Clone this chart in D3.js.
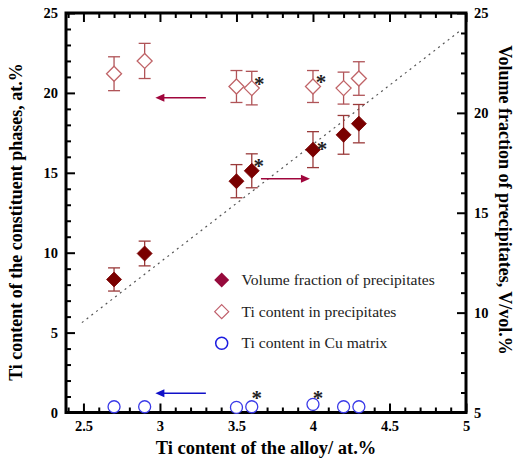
<!DOCTYPE html>
<html><head><meta charset="utf-8">
<script src="https://cdn.jsdelivr.net/npm/d3@7"></script>
<style>body{margin:0;background:#fff}svg{display:block}</style>
</head><body>
<svg id="chart" width="515" height="460"></svg>
<script>
// ---- data ----
const alloyTi = [2.7, 2.9, 3.5, 3.6, 4.0, 4.2, 4.3];
const tiPrecip = [21.2, 22.0, 20.4, 20.3, 20.4, 20.3, 20.9];
const tiPrecipErr = [1.06, 1.1, 1.0, 1.05, 1.0, 1.0, 1.05];
const volFrac = [11.66, 12.96, 16.58, 17.1, 18.16, 18.9, 19.46];
const volFracErr = [0.58, 0.62, 0.83, 0.85, 0.9, 0.97, 0.96];
const tiMatrix = [0.36, 0.36, 0.32, 0.36, 0.51, 0.36, 0.36];
const starredX = [3.6, 4.0];
const trendX = [2.49, 4.96];
const trendV = [9.5, 24.1];
const xTicks = [2.5, 3, 3.5, 4, 4.5, 5];
const yLeftTicks = [0, 5, 10, 15, 20, 25];
const yRightTicks = [5, 10, 15, 20, 25];
const legendLabels = ["Volume fraction of precipitates", "Ti content in precipitates", "Ti content in Cu matrix"];
const xTitle = "Ti content of the alloy/ at.%";
const yLeftTitle = "Ti content of the constituent phases, at.%";
const yRightTitle = "Volume fraction of precipitates, V/vol.%";

// ---- layout ----
const L = 66, R = 466, T = 13, B = 412.5;
const svg = d3.select("#chart");
const FONT = "Liberation Serif, Times New Roman, serif";
const x = d3.scaleLinear().domain([2.386, 5]).range([L, R]);
const yL = d3.scaleLinear().domain([0, 25]).range([B, T]);
const yR = d3.scaleLinear().domain([5, 25]).range([B, T]);

const filledCol = "#7a0000", filledErr = "#9a3a3a";
const openCol = "#c06468", openErr = "#b05458";
const blueCol = "#3a3ae8";
const arrowRed = "#a0063c", arrowBlue = "#1010c8";

const xMinor = d3.range(24, 51).map(d => d / 10).filter(v => v >= 2.386 && Math.abs(v * 2 - Math.round(v * 2)) > 1e-6);
const yLMinor = d3.range(0, 26).filter(v => v % 5 !== 0);
const yRMinor = d3.range(5, 26).filter(v => v % 5 !== 0);

function styleAxis(g, sw) {
  g.select(".domain").remove();
  g.selectAll(".tick line").attr("stroke", "#000").attr("stroke-width", sw);
  g.selectAll(".tick text").attr("font-family", FONT).attr("font-weight", "bold").attr("font-size", 14.5).attr("fill", "#000");
}
svg.append("g").attr("transform", `translate(0,${B})`)
  .call(d3.axisBottom(x).tickValues(xTicks).tickSizeInner(-9).tickSizeOuter(0).tickPadding(8).tickFormat(d3.format("")))
  .call(g => styleAxis(g, 2));
svg.append("g").attr("transform", `translate(0,${B})`)
  .call(d3.axisBottom(x).tickValues(xMinor).tickSizeInner(-5).tickSizeOuter(0).tickFormat(""))
  .call(g => styleAxis(g, 2));
svg.append("g").attr("transform", `translate(0,${T})`)
  .call(d3.axisTop(x).tickValues(xTicks).tickSizeInner(-9).tickSizeOuter(0).tickFormat(""))
  .call(g => styleAxis(g, 2));
svg.append("g").attr("transform", `translate(0,${T})`)
  .call(d3.axisTop(x).tickValues(xMinor).tickSizeInner(-5).tickSizeOuter(0).tickFormat(""))
  .call(g => styleAxis(g, 2));
svg.append("g").attr("transform", `translate(${L},0)`)
  .call(d3.axisLeft(yL).tickValues(yLeftTicks).tickSizeInner(-9).tickSizeOuter(0).tickPadding(8).tickFormat(d3.format("d")))
  .call(g => styleAxis(g, 2));
svg.append("g").attr("transform", `translate(${L},0)`)
  .call(d3.axisLeft(yL).tickValues(yLMinor).tickSizeInner(-5).tickSizeOuter(0).tickFormat(""))
  .call(g => styleAxis(g, 2));
svg.append("g").attr("transform", `translate(${R},0)`)
  .call(d3.axisRight(yR).tickValues(yRightTicks).tickSizeInner(-9).tickSizeOuter(0).tickPadding(8).tickFormat(d3.format("d")))
  .call(g => styleAxis(g, 2));
svg.append("g").attr("transform", `translate(${R},0)`)
  .call(d3.axisRight(yR).tickValues(yRMinor).tickSizeInner(-5).tickSizeOuter(0).tickFormat(""))
  .call(g => styleAxis(g, 2));

svg.append("rect").attr("x", L).attr("y", T).attr("width", R - L).attr("height", B - T)
  .attr("fill", "none").attr("stroke", "#000").attr("stroke-width", 3);

svg.append("line")
  .attr("x1", x(trendX[0])).attr("y1", yR(trendV[0]))
  .attr("x2", x(trendX[1])).attr("y2", yR(trendV[1]))
  .attr("stroke", "#555").attr("stroke-width", 1.2).attr("stroke-dasharray", "2,4");

const dataIdx = d3.range(alloyTi.length);

function errorBars(vals, errs, scale, col) {
  const g = svg.append("g").attr("stroke", col).attr("stroke-width", 1.3).attr("fill", "none");
  dataIdx.forEach(i => {
    const cx = x(alloyTi[i]);
    const y1 = scale(vals[i] + errs[i]), y2 = scale(vals[i] - errs[i]);
    g.append("line").attr("x1", cx).attr("x2", cx).attr("y1", y1).attr("y2", y2);
    g.append("line").attr("x1", cx - 6).attr("x2", cx + 6).attr("y1", y1).attr("y2", y1);
    g.append("line").attr("x1", cx - 6).attr("x2", cx + 6).attr("y1", y2).attr("y2", y2);
  });
}
const diamond = (cx, cy, h) => `M${cx},${cy - h}L${cx + h},${cy}L${cx},${cy + h}L${cx - h},${cy}Z`;

errorBars(tiPrecip, tiPrecipErr, yL, openErr);
svg.append("g").selectAll("path").data(dataIdx).join("path")
  .attr("d", i => diamond(x(alloyTi[i]), yL(tiPrecip[i]), 7.5))
  .attr("fill", "#fff").attr("stroke", openCol).attr("stroke-width", 1.3);

errorBars(volFrac, volFracErr, yR, filledErr);
svg.append("g").selectAll("path").data(dataIdx).join("path")
  .attr("d", i => diamond(x(alloyTi[i]), yR(volFrac[i]), 7.5))
  .attr("fill", filledCol).attr("stroke", filledCol).attr("stroke-width", 0.8);

svg.append("g").selectAll("circle").data(dataIdx).join("circle")
  .attr("cx", i => x(alloyTi[i])).attr("cy", i => yL(tiMatrix[i])).attr("r", 6)
  .attr("fill", "#fff").attr("stroke", blueCol).attr("stroke-width", 1.3);

function stars(vals, scale, dx, dy) {
  starredX.forEach((sx, k) => {
    const i = alloyTi.indexOf(sx);
    svg.append("text").attr("x", x(sx) + dx[k]).attr("y", scale(vals[i]) + dy[k] + 10)
      .attr("text-anchor", "middle").attr("font-family", FONT).attr("font-weight", "bold").attr("font-size", 21)
      .attr("fill", "#222").text("*");
  });
}
stars(tiPrecip, yL, [7.5, 8], [-6.7, -8]);
stars(volFrac, yR, [7, 9], [-8, -4]);
stars(tiMatrix, yL, [5, 5], [-12, -9]);

function arrow(xFrom, xTo, yPix, col) {
  const dir = Math.sign(xTo - xFrom);
  svg.append("line").attr("x1", xFrom).attr("x2", xTo - dir * 8).attr("y1", yPix).attr("y2", yPix)
    .attr("stroke", col).attr("stroke-width", 1.6);
  svg.append("path").attr("d", `M${xTo},${yPix}L${xTo - dir * 9},${yPix - 4}L${xTo - dir * 9},${yPix + 4}Z`).attr("fill", col);
}
arrow(x(3.3), x(2.97), yL(19.7), arrowRed);
arrow(x(3.66), x(3.98), yR(16.7), arrowRed);
arrow(x(3.3), x(2.97), yL(1.2), arrowBlue);

const lg = svg.append("g");
const legY = [280, 311.7, 343.3];
lg.append("path").attr("d", diamond(221.7, legY[0], 7.5)).attr("fill", "#960a3c");
lg.append("path").attr("d", diamond(221.7, legY[1], 7)).attr("fill", "#fff").attr("stroke", "#c0606c").attr("stroke-width", 1.2);
lg.append("circle").attr("cx", 221.7).attr("cy", legY[2]).attr("r", 6).attr("fill", "#fff").attr("stroke", "#1c1ce0").attr("stroke-width", 1.5);
legendLabels.forEach((t, i) => {
  lg.append("text").attr("x", 241.5).attr("y", legY[i] + 5).attr("font-family", FONT).attr("font-size", 15.6)
    .attr("fill", "#222").text(t);
});

svg.append("text").attr("x", 266).attr("y", 454).attr("text-anchor", "middle")
  .attr("font-family", FONT).attr("font-weight", "bold").attr("font-size", 18.5).text(xTitle);
svg.append("text").attr("transform", "translate(22,222) rotate(-90)").attr("text-anchor", "middle")
  .attr("font-family", FONT).attr("font-weight", "bold").attr("font-size", 18).text(yLeftTitle);
svg.append("text").attr("transform", "translate(499,200) rotate(90)").attr("text-anchor", "middle")
  .attr("font-family", FONT).attr("font-weight", "bold").attr("font-size", 18).text(yRightTitle);
</script>
</body></html>
